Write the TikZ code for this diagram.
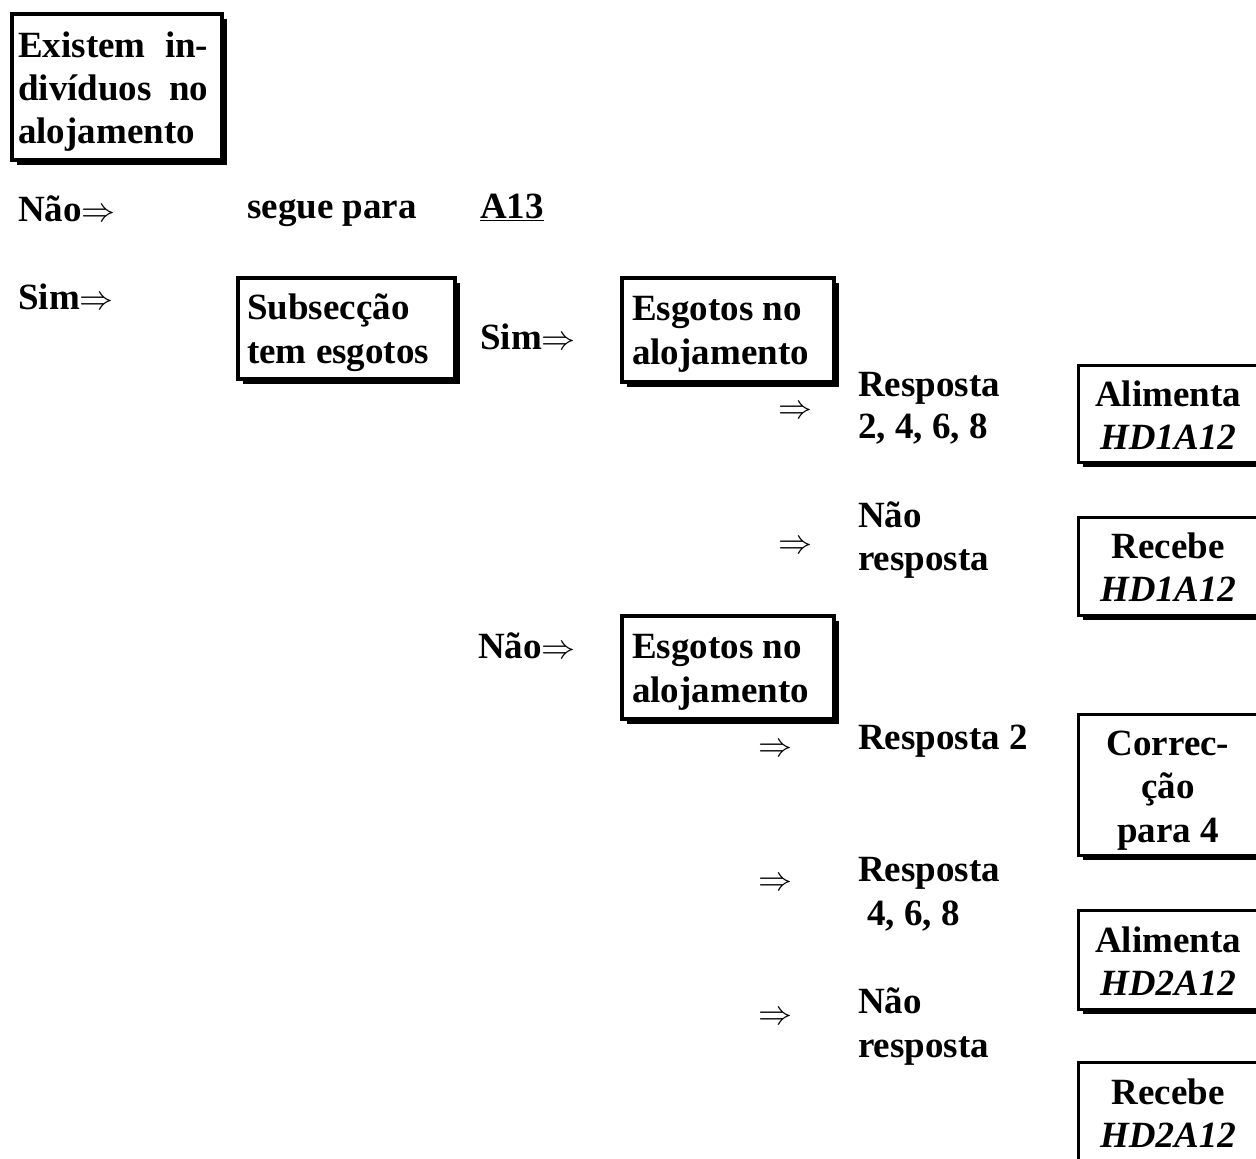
\documentclass[tikz,border=0pt]{standalone}
\usepackage{fontspec}
\usepackage{graphicx}
\setmainfont{Liberation Serif}
\usetikzlibrary{shadows}
\tikzset{
  txt/.style={inner sep=0pt, anchor=base west, font=\bfseries\fontsize{37}{43}\selectfont},
  ctxt/.style={txt, anchor=base},
  arr/.style={inner sep=0pt, anchor=west},
  lbox/.style={draw, line width=4pt, fill=white, anchor=north west, inner sep=0pt,
    drop shadow={shadow xshift=5pt, shadow yshift=-5pt, fill=black, opacity=1}},
  rbox/.style={draw, line width=3pt, fill=white, anchor=north west, inner sep=0pt,
    drop shadow={shadow xshift=4pt, shadow yshift=-4pt, fill=black, opacity=1}},
}
\newcommand{\rarr}{\resizebox{34pt}{!}{$\Rightarrow$}}
\begin{document}
\begin{tikzpicture}[x=1pt,y=-1pt]
\path[use as bounding box, fill=white] (0,0) rectangle (1256,1159);
\clip (0,0) rectangle (1256,1159);
% box 1
\node[lbox, minimum width=210pt, minimum height=146pt] (b1) at (10,12) {};
\node[txt] (b1a) at (18,57) {\makebox[190pt][s]{Existem in-}};
\node[txt] (b1b) at (18,100) {\makebox[190pt][s]{divíduos no}};
\node[txt] (b1c) at (18,143) {alojamento};
% row Nao
\node[txt] (nao1) at (18,221) {Não\rarr};
\node[txt] (segue) at (247,218) {segue para};
\node[txt] (a13) at (480,218) {\underline{A13}};
% row Sim
\node[txt] (sim1) at (18,309) {Sim\rarr};
% box 2
\node[lbox, minimum width=217pt, minimum height=101pt] (b2) at (236,276) {};
\node[txt] (b2a) at (247,319) {Subsecção};
\node[txt] (b2b) at (247,363) {tem esgotos};
% Sim 2
\node[txt] (sim2) at (480,349) {Sim\rarr};
% box 3
\node[lbox, minimum width=212pt, minimum height=104pt] (b3) at (620,276) {};
\node[txt] (b3a) at (632,320) {Esgotos no};
\node[txt] (b3b) at (632,364) {alojamento};
% answers group 1
\node[arr] (ar1) at (778,412) {\rarr};
\node[txt] (r1a) at (858,396) {Resposta};
\node[txt] (r1b) at (858,438) {2, 4, 6, 8};
\node[arr] (ar2) at (778,547) {\rarr};
\node[txt] (r2a) at (858,527) {Não};
\node[txt] (r2b) at (858,570) {resposta};
% box 4, 5
\node[rbox, minimum width=186pt, minimum height=97pt] (b4) at (1077,364) {};
\node[ctxt] (b4a) at (1168,406) {Alimenta};
\node[ctxt] (b4b) at (1168,449) {\textit{HD1A12}};
\node[rbox, minimum width=186pt, minimum height=98pt] (b5) at (1077,516) {};
\node[ctxt] (b5a) at (1168,558) {Recebe};
\node[ctxt] (b5b) at (1168,601) {\textit{HD1A12}};
% Nao 2
\node[txt] (nao2) at (478,658) {Não\rarr};
% box 6
\node[lbox, minimum width=212pt, minimum height=103pt] (b6) at (620,614) {};
\node[txt] (b6a) at (632,658) {Esgotos no};
\node[txt] (b6b) at (632,702) {alojamento};
% answers group 2
\node[arr] (ar3) at (758,750) {\rarr};
\node[txt] (r3) at (858,749) {Resposta 2};
\node[arr] (ar4) at (758,884) {\rarr};
\node[txt] (r4a) at (858,881) {Resposta};
\node[txt] (r4b) at (867,925) {4, 6, 8};
\node[arr] (ar5) at (758,1018) {\rarr};
\node[txt] (r5a) at (858,1013) {Não};
\node[txt] (r5b) at (858,1057) {resposta};
% box 7, 8, 9
\node[rbox, minimum width=186pt, minimum height=141pt] (b7) at (1077,713) {};
\node[ctxt] (b7a) at (1168,755) {Correc-};
\node[ctxt] (b7b) at (1168,798) {ção};
\node[ctxt] (b7c) at (1168,842) {para 4};
\node[rbox, minimum width=186pt, minimum height=99pt] (b8) at (1077,909) {};
\node[ctxt] (b8a) at (1168,952) {Alimenta};
\node[ctxt] (b8b) at (1168,995) {\textit{HD2A12}};
\node[rbox, minimum width=186pt, minimum height=110pt] (b9) at (1077,1061) {};
\node[ctxt] (b9a) at (1168,1104) {Recebe};
\node[ctxt] (b9b) at (1168,1147) {\textit{HD2A12}};
\end{tikzpicture}
\end{document}
